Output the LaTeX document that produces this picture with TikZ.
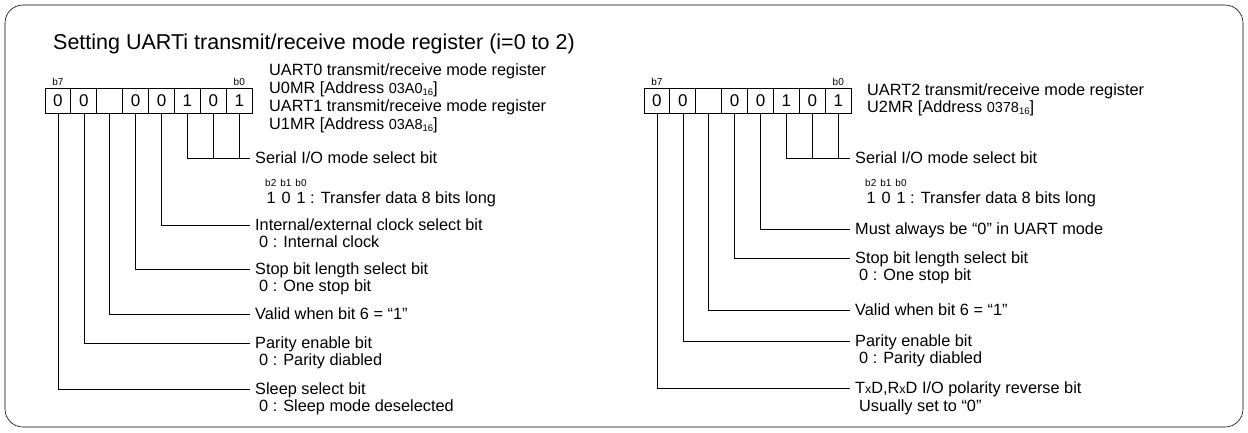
\documentclass[tikz,border=0pt]{standalone}
\usepackage{fontspec}
\setmainfont{Liberation Sans}
\usetikzlibrary{positioning}

\newcommand{\hexaddr}[1]{{\fontsize{14.5}{15}\selectfont #1}\raisebox{-1.5pt}{\fontsize{9.5}{10}\selectfont 16}}
\newcommand{\smallx}{{\fontsize{12.5}{13}\selectfont x}}

\begin{document}
\begin{tikzpicture}[
	x=1pt, y=-1pt,
	cell/.style={rectangle, draw, line width=1pt, minimum width=25.9pt, minimum height=25pt, inner sep=0pt, outer sep=0pt, font=\fontsize{17}{17}\selectfont},
	bitno/.style={inner sep=0pt, font=\fontsize{10}{11}\selectfont},
	lbl/.style={anchor=west, inner xsep=5pt, inner ysep=0pt, text height=11.6pt, text depth=0pt, font=\fontsize{16.3}{17}\selectfont},
	leader/.style={line width=0.6pt},
	node distance=0pt
]
	\useasboundingbox (0,0) rectangle (1248,432);
	\draw[line width=0.6pt, rounded corners=18pt] (5,5) rectangle (1243,427);

	% Title
	\node[anchor=base west, inner sep=0pt, font=\fontsize{21.5}{22}\selectfont] (title) at (53,49) {Setting UARTi transmit/receive mode register (i=0 to 2)};

	% UART0 / UART1 register
	\node[cell, anchor=north west] (l7) at (45,88) {0};
	\node[cell, right=of l7] (l6) {0};
	\node[cell, right=of l6] (l5) {};
	\node[cell, right=of l5] (l4) {0};
	\node[cell, right=of l4] (l3) {0};
	\node[cell, right=of l3] (l2) {1};
	\node[cell, right=of l2] (l1) {0};
	\node[cell, right=of l1] (l0) {1};
	\node[bitno, above=2.5pt of l7] (lb7) {b7};
	\node[bitno, above=2.5pt of l0] (lb0) {b0};

	\node[lbl] (uart0) at (264,70) {UART0 transmit/receive mode register};
	\node[lbl] (u0mr) at (264,88) {U0MR [Address \hexaddr{03A0}]};
	\node[lbl] (uart1) at (264,106) {UART1 transmit/receive mode register};
	\node[lbl] (u1mr) at (264,124) {U1MR [Address \hexaddr{03A8}]};

	% UART0 / UART1 bit labels
	\node[lbl] (lser) at (250,158) {Serial I/O mode select bit};
	\node[bitno, anchor=west] (lserbits) at (265,183) {b2\hspace{4pt}b1\hspace{4pt}b0};
	\node[lbl] (lserval) at (261.3,198) {1\hspace{6pt}0\hspace{6pt}1 : Transfer data 8 bits long};
	\node[lbl] (lint) at (250,225) {Internal/external clock select bit};
	\node[lbl] (lintval) at (254,242) {0 : Internal clock};
	\node[lbl] (lstop) at (250,269) {Stop bit length select bit};
	\node[lbl] (lstopval) at (254,286) {0 : One stop bit};
	\node[lbl] (lvalid) at (250,314) {Valid when bit 6 = “1”};
	\node[lbl] (lpar) at (250,343) {Parity enable bit};
	\node[lbl] (lparval) at (254,360) {0 : Parity diabled};
	\node[lbl] (lsleep) at (250,389) {Sleep select bit};
	\node[lbl] (lsleepval) at (254,406) {0 : Sleep mode deselected};

	% UART0 / UART1 leaders
	\draw[leader] (l0.south) |- (lser.west);
	\draw[leader] (l1.south) |- (lser.west);
	\draw[leader] (l2.south) |- (lser.west);
	\draw[leader] (l3.south) |- (lint.west);
	\draw[leader] (l4.south) |- (lstop.west);
	\draw[leader] (l5.south) |- (lvalid.west);
	\draw[leader] (l6.south) |- (lpar.west);
	\draw[leader] (l7.south) |- (lsleep.west);

	% UART2 register
	\node[cell, anchor=north west] (r7) at (644,88) {0};
	\node[cell, right=of r7] (r6) {0};
	\node[cell, right=of r6] (r5) {};
	\node[cell, right=of r5] (r4) {0};
	\node[cell, right=of r4] (r3) {0};
	\node[cell, right=of r3] (r2) {1};
	\node[cell, right=of r2] (r1) {0};
	\node[cell, right=of r1] (r0) {1};
	\node[bitno, above=2.5pt of r7] (rb7) {b7};
	\node[bitno, above=2.5pt of r0] (rb0) {b0};

	\node[lbl] (uart2) at (862,90) {UART2 transmit/receive mode register};
	\node[lbl] (u2mr) at (862,107) {U2MR [Address \hexaddr{0378}]};

	% UART2 bit labels
	\node[lbl] (rser) at (850,158) {Serial I/O mode select bit};
	\node[bitno, anchor=west] (rserbits) at (865,183) {b2\hspace{4pt}b1\hspace{4pt}b0};
	\node[lbl] (rserval) at (861.3,198) {1\hspace{6pt}0\hspace{6pt}1 : Transfer data 8 bits long};
	\node[lbl] (rmust) at (850,229) {Must always be “0” in UART mode};
	\node[lbl] (rstop) at (850,258) {Stop bit length select bit};
	\node[lbl] (rstopval) at (854,275) {0 : One stop bit};
	\node[lbl] (rvalid) at (850,310) {Valid when bit 6 = “1”};
	\node[lbl] (rpar) at (850,341) {Parity enable bit};
	\node[lbl] (rparval) at (854,358) {0 : Parity diabled};
	\node[lbl] (rpol) at (850,388) {T\smallx D,R\smallx D I/O polarity reverse bit};
	\node[lbl] (rpolval) at (854,406) {Usually set to “0”};

	% UART2 leaders
	\draw[leader] (r0.south) |- (rser.west);
	\draw[leader] (r1.south) |- (rser.west);
	\draw[leader] (r2.south) |- (rser.west);
	\draw[leader] (r3.south) |- (rmust.west);
	\draw[leader] (r4.south) |- (rstop.west);
	\draw[leader] (r5.south) |- (rvalid.west);
	\draw[leader] (r6.south) |- (rpar.west);
	\draw[leader] (r7.south) |- (rpol.west);
\end{tikzpicture}
\end{document}
